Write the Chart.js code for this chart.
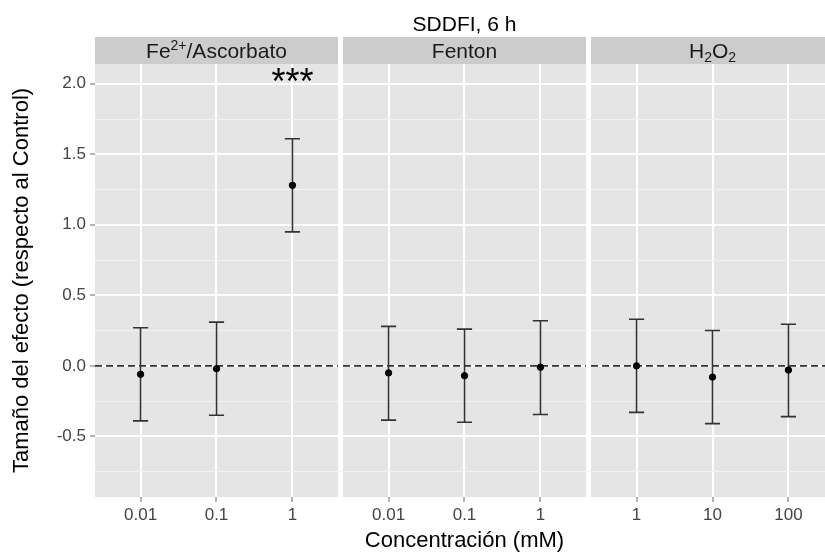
<!DOCTYPE html>
<html>
<head>
<meta charset="utf-8">
<script src="https://cdn.jsdelivr.net/npm/chart.js@4"></script>
<style>
  html, body { margin: 0; padding: 0; background: #fff; overflow: hidden; }
  #wrap { width: 825px; height: 559px; overflow: hidden; }
</style>
</head>
<body>
<div id="wrap"><canvas id="effectChart" width="840" height="559"></canvas></div>
<script>
// chart data
const chartTitle = "SDDFI, 6 h";
const panelNames = ["Fe2+/Ascorbato", "Fenton", "H2O2"];
const doseLabels = [["0.01", "0.1", "1"], ["0.01", "0.1", "1"], ["1", "10", "100"]];
const effect = [[-0.06, -0.02, 1.28], [-0.05, -0.07, -0.01], [0.0, -0.08, -0.03]];
const lowerCI = [[-0.39, -0.35, 0.95], [-0.385, -0.40, -0.345], [-0.33, -0.41, -0.36]];
const upperCI = [[0.27, 0.31, 1.61], [0.28, 0.26, 0.32], [0.33, 0.25, 0.295]];
const signif = [["", "", "***"], ["", "", ""], ["", "", ""]];
const yTicks = [-0.75, -0.5, -0.25, 0, 0.25, 0.5, 0.75, 1, 1.25, 1.5, 1.75, 2];

// strip labels with super/subscripts: [text, shift] (1 = sup, -1 = sub)
const stripParts = [
  [["Fe", 0], ["2+", 1], ["/Ascorbato", 0]],
  [["Fenton", 0]],
  [["H", 0], ["2", -1], ["O", 0], ["2", -1]]
];

const FONT = "'Liberation Sans', Arial, Helvetica, sans-serif";
const PANEL_W = 3.2;   // 3 discrete levels + 0.6 expansion each side
const GAP = 0.066;
const panelStart = p => p * (PANEL_W + GAP);
const xPos = (p, i) => panelStart(p) + 0.6 + i;
const isMajor = v => Math.abs(v * 2 - Math.round(v * 2)) < 1e-6;

const points = [];
const xTickVals = [];
const xTickText = [];
effect.forEach((row, p) => row.forEach((v, i) => {
  points.push({ x: xPos(p, i), y: v });
  xTickVals.push(xPos(p, i));
  xTickText.push(doseLabels[p][i]);
}));

const zeroLines = panelNames.map((_, p) => ({
  type: "line",
  data: [{ x: panelStart(p), y: 0 }, { x: panelStart(p) + PANEL_W, y: 0 }],
  borderColor: "#333333",
  borderWidth: 1.6,
  borderDash: [7, 4],
  pointRadius: 0,
  fill: false
}));

// panel backgrounds, strips and titles
const facetPlugin = {
  id: "facets",
  beforeDraw(chart) {
    const { ctx, chartArea, scales: { x } } = chart;
    ctx.save();
    panelNames.forEach((_, p) => {
      const l = x.getPixelForValue(panelStart(p));
      const r = x.getPixelForValue(panelStart(p) + PANEL_W);
      ctx.fillStyle = "#e5e5e5";
      ctx.fillRect(l, chartArea.top, r - l, chartArea.bottom - chartArea.top);
      ctx.fillStyle = "#cccccc";
      ctx.fillRect(l, chartArea.top - 27, r - l, 27);
    });
    ctx.restore();
  },
  afterDraw(chart) {
    const { ctx, chartArea, scales: { x, y } } = chart;
    ctx.save();
    // strip labels
    panelNames.forEach((_, p) => {
      const l = x.getPixelForValue(panelStart(p));
      const r = x.getPixelForValue(panelStart(p) + PANEL_W);
      const parts = stripParts[p];
      let total = 0;
      parts.forEach(([t, s]) => {
        ctx.font = (s ? 14 : 21) + "px " + FONT;
        total += ctx.measureText(t).width;
      });
      let cx = (l + r) / 2 - total / 2;
      const base = chartArea.top - 6;
      ctx.fillStyle = "#1a1a1a";
      ctx.textBaseline = "alphabetic";
      ctx.textAlign = "left";
      parts.forEach(([t, s]) => {
        ctx.font = (s ? 14 : 21) + "px " + FONT;
        ctx.fillText(t, cx, base - (s === 1 ? 8 : s === -1 ? -4 : 0));
        cx += ctx.measureText(t).width;
      });
    });
    // title
    ctx.font = "21px " + FONT;
    ctx.fillStyle = "#000";
    ctx.textAlign = "center";
    ctx.fillText(chartTitle, (chartArea.left + chartArea.right) / 2, 31);
    // significance stars
    ctx.font = "36px " + FONT;
    signif.forEach((row, p) => row.forEach((s, i) => {
      if (!s) return;
      const m = ctx.measureText(s);
      const yc = y.getPixelForValue(2.06);
      ctx.fillText(s, x.getPixelForValue(xPos(p, i)),
        yc + (m.actualBoundingBoxAscent - m.actualBoundingBoxDescent) / 2);
    }));
    ctx.restore();
  }
};

// error bars drawn from the CI arrays through the scales
const errorBarPlugin = {
  id: "errorBars",
  beforeDatasetsDraw(chart) {
    const { ctx, scales: { x, y } } = chart;
    ctx.save();
    ctx.strokeStyle = "#333333";
    ctx.lineWidth = 1.6;
    effect.forEach((row, p) => row.forEach((_, i) => {
      const cx = x.getPixelForValue(xPos(p, i));
      const hw = x.getPixelForValue(xPos(p, i) + 0.1) - cx;
      const yl = y.getPixelForValue(lowerCI[p][i]);
      const yu = y.getPixelForValue(upperCI[p][i]);
      ctx.beginPath();
      ctx.moveTo(cx, yl); ctx.lineTo(cx, yu);
      ctx.moveTo(cx - hw, yl); ctx.lineTo(cx + hw, yl);
      ctx.moveTo(cx - hw, yu); ctx.lineTo(cx + hw, yu);
      ctx.stroke();
    }));
    ctx.restore();
  }
};

const ctx = document.getElementById("effectChart").getContext("2d");

new Chart(ctx, {
  type: "scatter",
  data: {
    datasets: [
      {
        type: "scatter",
        data: points,
        backgroundColor: "#000",
        borderColor: "#000",
        pointRadius: 3.2,
        pointHoverRadius: 3.2
      },
      ...zeroLines
    ]
  },
  options: {
    responsive: false,
    animation: false,
    devicePixelRatio: 1,
    layout: { padding: { top: 64, right: 6, left: 0, bottom: 0 } },
    plugins: { legend: { display: false }, tooltip: { enabled: false } },
    scales: {
      x: {
        type: "linear",
        min: 0,
        max: 3 * PANEL_W + 2 * GAP,
        afterBuildTicks: axis => { axis.ticks = xTickVals.map(v => ({ value: v })); },
        afterFit: axis => { axis.height = 62; },
        ticks: {
          autoSkip: false,
          maxRotation: 0,
          padding: 3,
          color: "#444",
          font: { family: FONT, size: 17 },
          callback: (v, i) => xTickText[i]
        },
        grid: { color: "#ffffff", lineWidth: 2, tickColor: "#666", tickWidth: 1, tickLength: 5 },
        border: { display: false },
        title: {
          display: true,
          text: "Concentración (mM)",
          color: "#000",
          font: { family: FONT, size: 22 },
          padding: { top: 0, bottom: 5 }
        }
      },
      y: {
        min: -0.93,
        max: 2.14,
        afterBuildTicks: axis => { axis.ticks = yTicks.map(v => ({ value: v })); },
        afterFit: axis => { axis.width = 95; },
        ticks: {
          padding: 4,
          color: "#444",
          font: { family: FONT, size: 17 },
          callback: v => isMajor(v) ? v.toFixed(1) : ""
        },
        grid: {
          color: c => isMajor(c.tick.value) ? "#ffffff" : "#f2f2f2",
          lineWidth: c => isMajor(c.tick.value) ? 2 : 1,
          tickColor: c => isMajor(c.tick.value) ? "#666" : "rgba(0,0,0,0)",
          tickWidth: 1,
          tickLength: 5
        },
        border: { display: false },
        title: {
          display: true,
          text: "Tamaño del efecto (respecto al Control)",
          color: "#000",
          font: { family: FONT, size: 22 },
          padding: { top: 9, bottom: 0 }
        }
      }
    }
  },
  plugins: [facetPlugin, errorBarPlugin]
});
</script>
</body>
</html>
